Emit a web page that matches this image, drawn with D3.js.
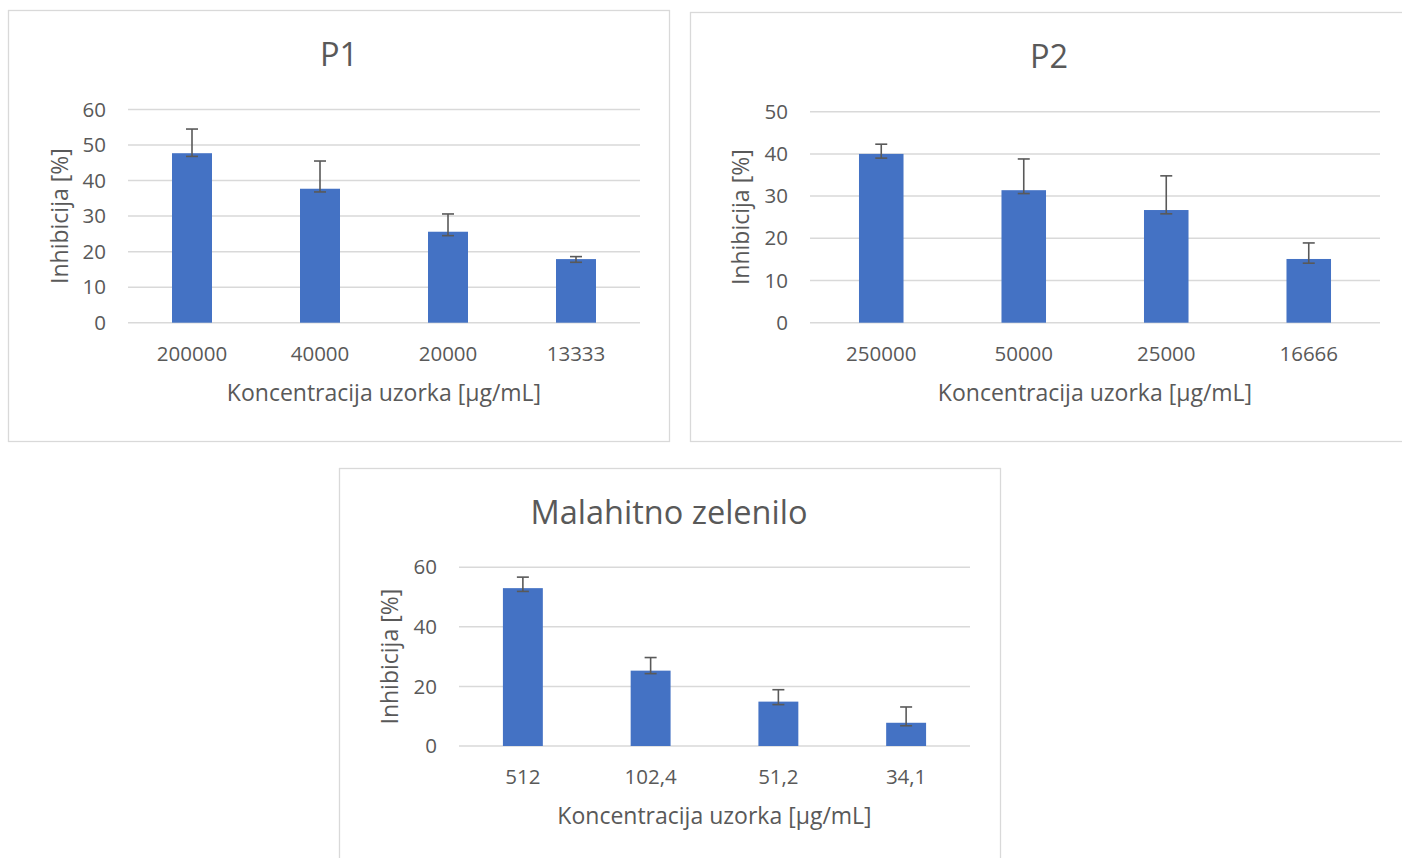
<!DOCTYPE html>
<html>
<head>
<meta charset="utf-8">
<script src="https://cdn.jsdelivr.net/npm/d3@7"></script>
<style>
  body { margin: 0; background: #fff; }
  text { font-family: "Open Sans", "Noto Sans", sans-serif; fill: #595959; }
</style>
</head>
<body>
<div id="my_dataviz"></div>
<script>
// P1
const p1Labels = ["200000", "40000", "20000", "13333"];
const p1Values = [47.7, 37.7, 25.6, 17.9];
const p1ErrLow = [46.8, 36.8, 24.5, 17.0];
const p1ErrHigh = [54.5, 45.5, 30.6, 18.6];
const p1Ticks = [0, 10, 20, 30, 40, 50, 60];

// P2
const p2Labels = ["250000", "50000", "25000", "16666"];
const p2Values = [40.0, 31.4, 26.7, 15.1];
const p2ErrLow = [39.0, 30.6, 25.8, 14.1];
const p2ErrHigh = [42.3, 38.8, 34.8, 18.9];
const p2Ticks = [0, 10, 20, 30, 40, 50];

// Malahitno zelenilo
const p3Labels = ["512", "102,4", "51,2", "34,1"];
const p3Values = [53.0, 25.3, 14.9, 7.8];
const p3ErrLow = [51.9, 24.3, 13.9, 6.8];
const p3ErrHigh = [56.7, 29.7, 18.9, 13.1];
const p3Ticks = [0, 20, 40, 60];

const xTitle = "Koncentracija uzorka [µg/mL]";
const yTitle = "Inhibicija [%]";

const svg = d3.select("#my_dataviz")
  .append("svg")
  .attr("width", 1402)
  .attr("height", 858);

function drawPanel(cfg) {
  const g = svg.append("g");

  // panel border
  g.append("rect")
    .attr("x", cfg.box[0] + 0.5).attr("y", cfg.box[1] + 0.5)
    .attr("width", cfg.box[2]).attr("height", cfg.box[3])
    .attr("fill", "#fff").attr("stroke", "#d9d9d9").attr("stroke-width", 1.3);

  const x = d3.scaleBand()
    .domain(cfg.labels)
    .range([cfg.left, cfg.right])
    .paddingInner(0.6875).paddingOuter(0.34375);

  const y = d3.scaleLinear()
    .domain([0, d3.max(cfg.ticks)])
    .range([cfg.bottom, cfg.top]);

  // gridlines
  g.append("g").selectAll("line")
    .data(cfg.ticks)
    .join("line")
      .attr("x1", cfg.left).attr("x2", cfg.right)
      .attr("y1", d => y(d)).attr("y2", d => y(d))
      .attr("stroke", "#d9d9d9").attr("stroke-width", 1.5);

  // y tick labels
  g.append("g").selectAll("text")
    .data(cfg.ticks)
    .join("text")
      .attr("x", cfg.left - 22)
      .attr("y", d => y(d))
      .attr("dy", "0.35em")
      .attr("text-anchor", "end")
      .style("font-size", "20.5px")
      .text(d => d);

  const rows = cfg.labels.map((l, i) => ({
    label: l, value: cfg.values[i], lo: cfg.errLow[i], hi: cfg.errHigh[i]
  }));

  // bars
  g.append("g").selectAll("rect")
    .data(rows)
    .join("rect")
      .attr("x", d => x(d.label))
      .attr("y", d => y(d.value))
      .attr("width", x.bandwidth())
      .attr("height", d => y(0) - y(d.value))
      .attr("fill", "#4472c4");

  // error bars
  const eb = g.append("g").attr("stroke", "#595959").attr("stroke-width", 1.6);
  const cx = d => x(d.label) + x.bandwidth() / 2;
  eb.selectAll(".stem").data(rows).join("line")
    .attr("x1", cx).attr("x2", cx)
    .attr("y1", d => y(d.lo)).attr("y2", d => y(d.hi));
  eb.selectAll(".capHi").data(rows).join("line")
    .attr("x1", d => cx(d) - 6).attr("x2", d => cx(d) + 6)
    .attr("y1", d => y(d.hi)).attr("y2", d => y(d.hi));
  eb.selectAll(".capLo").data(rows).join("line")
    .attr("x1", d => cx(d) - 6).attr("x2", d => cx(d) + 6)
    .attr("y1", d => y(d.lo)).attr("y2", d => y(d.lo));

  // x tick labels
  g.append("g").selectAll("text")
    .data(cfg.labels)
    .join("text")
      .attr("x", d => x(d) + x.bandwidth() / 2)
      .attr("y", cfg.bottom + 31)
      .attr("dy", "0.35em")
      .attr("text-anchor", "middle")
      .style("font-size", "20.5px")
      .text(d => d);

  // axis titles
  g.append("text")
    .attr("x", (cfg.left + cfg.right) / 2)
    .attr("y", cfg.bottom + 70)
    .attr("dy", "0.35em")
    .attr("text-anchor", "middle")
    .style("font-size", "23px")
    .text(xTitle);

  g.append("text")
    .attr("transform", `translate(${cfg.yTitleX}, ${(cfg.top + cfg.bottom) / 2}) rotate(-90)`)
    .attr("dy", "0.35em")
    .attr("text-anchor", "middle")
    .style("font-size", "23px")
    .text(yTitle);

  // chart title
  g.append("text")
    .attr("x", cfg.titleX)
    .attr("y", cfg.titleY)
    .attr("dy", "0.35em")
    .attr("text-anchor", "middle")
    .style("font-size", "32.5px")
    .text(cfg.title);
}

drawPanel({
  title: "P1", titleX: 339, titleY: 55,
  box: [8, 10, 661, 431],
  left: 128, right: 640, top: 109.5, bottom: 322.7,
  yTitleX: 60,
  labels: p1Labels, values: p1Values, errLow: p1ErrLow, errHigh: p1ErrHigh, ticks: p1Ticks
});

drawPanel({
  title: "P2", titleX: 1049, titleY: 57,
  box: [690, 12, 720, 429],
  left: 810, right: 1380, top: 111.7, bottom: 322.7,
  yTitleX: 741,
  labels: p2Labels, values: p2Values, errLow: p2ErrLow, errHigh: p2ErrHigh, ticks: p2Ticks
});

drawPanel({
  title: "Malahitno zelenilo", titleX: 669, titleY: 513,
  box: [339, 468, 661, 400],
  left: 459, right: 970, top: 567.3, bottom: 746,
  yTitleX: 390,
  labels: p3Labels, values: p3Values, errLow: p3ErrLow, errHigh: p3ErrHigh, ticks: p3Ticks
});
</script>
</body>
</html>
